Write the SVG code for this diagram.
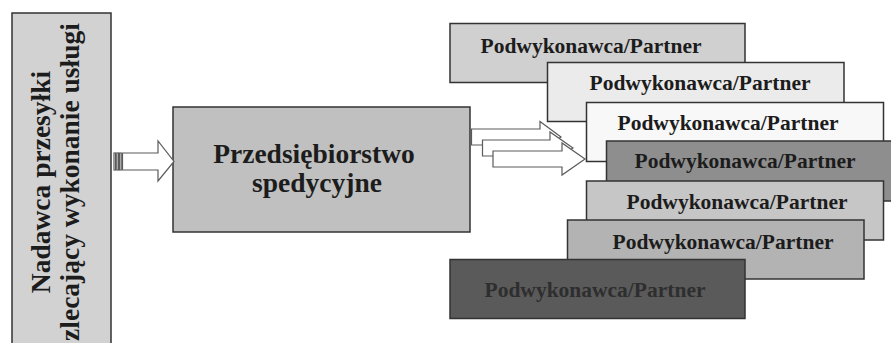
<svg xmlns="http://www.w3.org/2000/svg" width="891" height="343" viewBox="0 0 891 343">
<style>
.box{stroke:#333;stroke-width:1.5}
text{font-family:'Liberation Serif','Times New Roman','DejaVu Serif',serif;font-weight:700;fill:#1c1c1c;text-anchor:middle}
.p{font-size:21.5px}
.arr{fill:#fff;stroke:#5a5a5a;stroke-width:1.2;stroke-linejoin:miter}
</style>
<rect width="891" height="343" fill="#fff"/>
<g id="sender">
<rect class="box" x="12" y="13" width="99" height="335" fill="#d2d2d2"/>
<g transform="translate(0,182) rotate(-90)">
<text font-size="27.5" x="0" y="50">Nadawca przesyłki</text>
<text font-size="27.5" x="0" y="79">zlecający wykonanie usługi</text>
</g>
</g>
<g id="forwarder">
<rect class="box" x="173" y="107" width="297" height="125" fill="#c0c0c0"/>
<text font-size="27.5" x="314" y="163">Przedsiębiorstwo</text>
<text font-size="27.5" x="317" y="192">spedycyjne</text>
</g>
<g id="connectors">
<g class="arr">
<rect x="114" y="153" width="1.6" height="17"/>
<rect x="116.8" y="153" width="1.6" height="17"/>
<rect x="119.6" y="153" width="1.6" height="17"/>
<path d="M122.5,153 L158,153 L158,141 L174,161.5 L158,181 L158,170 L122.5,170 Z"/>
<path d="M471.5,129 L540,129 L540,121.5 L561,137 L540,152.5 L540,145 L471.5,145 Z"/>
<path d="M482.5,140 L550,140 L550,132 L573,148 L550,164 L550,156 L482.5,156 Z"/>
<path d="M493,151 L562,151 L562,143 L585,159 L562,175 L562,167 L493,167 Z"/>
</g>
</g>
<g id="partner1">
<rect class="box" x="450" y="23.5" width="295" height="59" fill="#d0d0d0"/>
<text class="p" x="591" y="52.5">Podwykonawca/Partner</text>
</g>
<g id="partner2">
<rect class="box" x="547.5" y="62.5" width="296.5" height="59" fill="#ebebeb"/>
<text class="p" x="700" y="90">Podwykonawca/Partner</text>
</g>
<g id="partner3">
<rect class="box" x="586.5" y="102.5" width="297" height="59" fill="#f8f8f8"/>
<text class="p" x="728" y="130">Podwykonawca/Partner</text>
</g>
<g id="partner4">
<rect class="box" x="606.5" y="141" width="297" height="60" fill="#8e8e8e"/>
<text class="p" x="745" y="168">Podwykonawca/Partner</text>
</g>
<g id="partner5">
<rect class="box" x="586.5" y="181" width="297" height="59" fill="#c6c6c6"/>
<text class="p" x="737" y="209">Podwykonawca/Partner</text>
</g>
<g id="partner6">
<rect class="box" x="567.5" y="220" width="296.5" height="59" fill="#b3b3b3"/>
<text class="p" x="723" y="249">Podwykonawca/Partner</text>
</g>
<g id="partner7">
<rect class="box" x="450" y="259.5" width="295" height="59" fill="#5a5a5a"/>
<text class="p" x="595" y="297" style="fill:#2e2e2e">Podwykonawca/Partner</text>
</g>
</svg>
